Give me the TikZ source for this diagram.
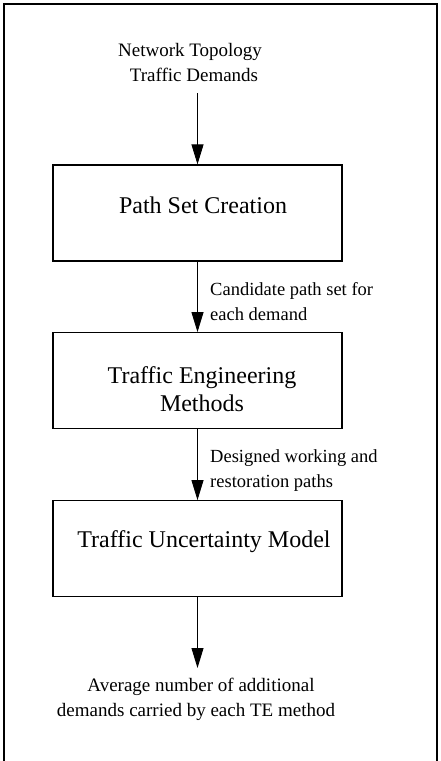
\documentclass[tikz,border=0pt]{standalone}
\usepackage{fontspec}
\setmainfont{Liberation Serif}
\usetikzlibrary{arrows.meta}
\begin{document}
\begin{tikzpicture}[x=1bp,y=-1bp,
  stagebox/.style={draw, line width=1.2bp, minimum width=289bp, minimum height=96bp, inner sep=0pt},
  boxtext/.style={font=\fontsize{24bp}{28bp}\selectfont, align=center, inner sep=0pt},
  smalltext/.style={font=\fontsize{19bp}{25bp}\selectfont, align=center, inner sep=0pt},
  sidetext/.style={font=\fontsize{18.5bp}{25bp}\selectfont, align=left, anchor=west, inner sep=0pt},
  flow/.style={line width=0.9bp, -{Triangle[length=20bp,width=12bp]}}]
  \useasboundingbox (0,0) rectangle (441,761);
  % outer frame, open at the bottom
  \draw[line width=2.6bp] (4,770) -- (4,4) -- (437,4) -- (437,770);

  % input description
  \node[smalltext] (input) at (190,63) {Network Topology\\\hspace*{8bp}Traffic Demands};
  \coordinate (in0) at (197.5,93);

  % processing stages
  \node[stagebox] (b1) at (197.5,213) {};
  \node[boxtext] (t1) at (203,205) {Path Set Creation};
  \node[stagebox] (b2) at (197.5,380.7) {};
  \node[boxtext] (t2) at (202,389) {Traffic Engineering\\Methods};
  \node[stagebox] (b3) at (197.5,548.7) {};
  \node[boxtext] (t3) at (204,542) {Traffic Uncertainty Model};

  % output description
  \node[smalltext] (output) at (196,699.5) {\hspace*{10bp}Average number of additional\\demands carried by each TE method};
  \coordinate (out0) at (197.5,668);

  % connectors
  \draw[flow] (in0) -- (b1.north);
  \draw[flow] (b1.south) -- (b2.north);
  \draw[flow] (b2.south) -- (b3.north);
  \draw[flow] (b3.south) -- (out0);

  % connector labels
  \node[sidetext] (l1) at (210,302) {Candidate path set for\\each demand};
  \node[sidetext] (l2) at (210,470.5) {Designed working and\\restoration paths};
\end{tikzpicture}
\end{document}
